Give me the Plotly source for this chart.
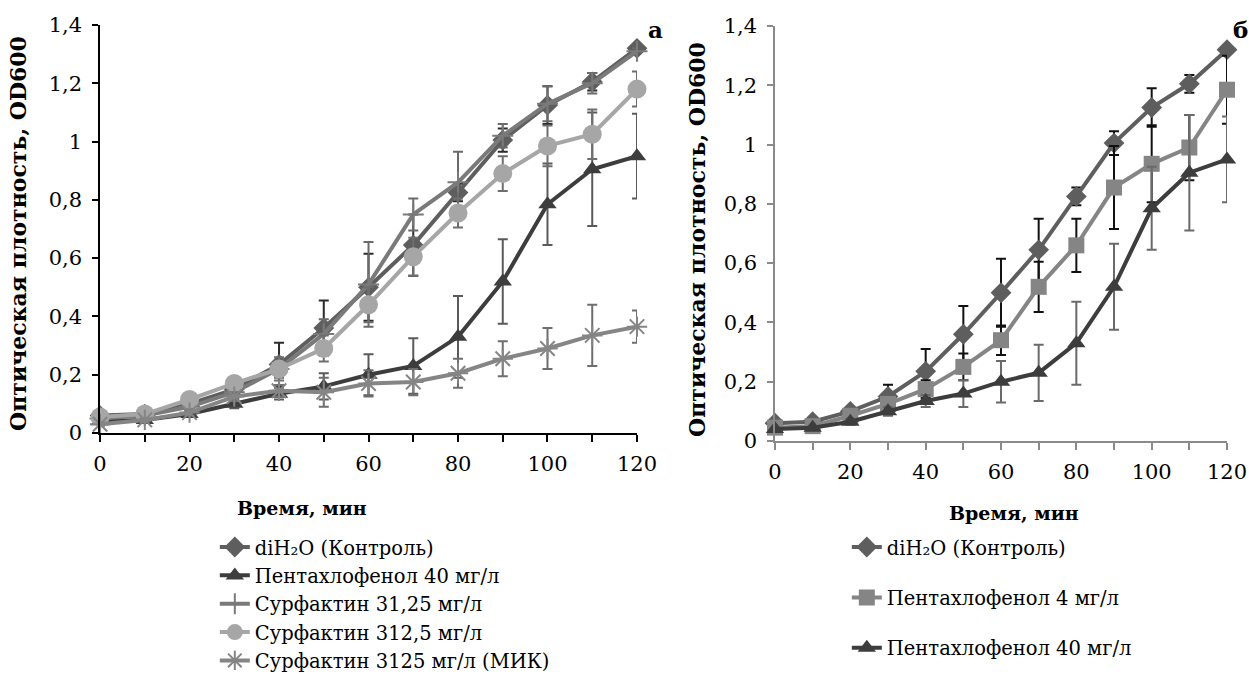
import plotly.graph_objects as go

# ---------------- data ----------------
time_min = [0, 10, 20, 30, 40, 50, 60, 70, 80, 90, 100, 110, 120]

x_tickvals = [0, 10, 20, 30, 40, 50, 60, 70, 80, 90, 100, 110, 120]
x_ticktext = ["0", "", "20", "", "40", "", "60", "", "80", "", "100", "", "120"]
y_tickvals = [0, 0.2, 0.4, 0.6, 0.8, 1.0, 1.2, 1.4]

# Panel a
control = [0.06, 0.065, 0.10, 0.15, 0.235, 0.36, 0.50, 0.645, 0.825, 1.005, 1.125, 1.205, 1.32]
control_err = [0.005, 0.005, 0.01, 0.04, 0.075, 0.095, 0.115, 0.105, 0.03, 0.04, 0.065, 0.03, 0.01]

pcp40 = [0.04, 0.045, 0.065, 0.10, 0.135, 0.16, 0.20, 0.23, 0.33, 0.52, 0.785, 0.905, 0.95]
pcp40_err = [0.005, 0.005, 0.01, 0.015, 0.02, 0.045, 0.07, 0.095, 0.14, 0.145, 0.14, 0.195, 0.145]

surf31 = [0.05, 0.06, 0.09, 0.14, 0.22, 0.34, 0.51, 0.75, 0.86, 1.02, 1.13, 1.20, 1.31]
surf31_err = [0.005, 0.005, 0.01, 0.02, 0.03, 0.05, 0.145, 0.055, 0.105, 0.04, 0.06, 0.035, 0.01]

surf312 = [0.055, 0.065, 0.115, 0.17, 0.22, 0.29, 0.44, 0.605, 0.755, 0.89, 0.985, 1.025, 1.18]
surf312_err = [0.005, 0.005, 0.01, 0.015, 0.04, 0.045, 0.06, 0.065, 0.05, 0.06, 0.07, 0.085, 0.06]

surf3125 = [0.03, 0.045, 0.07, 0.125, 0.145, 0.14, 0.17, 0.175, 0.205, 0.255, 0.29, 0.335, 0.365]
surf3125_err = [0.005, 0.005, 0.01, 0.015, 0.02, 0.05, 0.045, 0.045, 0.05, 0.06, 0.07, 0.105, 0.055]

# Panel б
pcp4 = [0.045, 0.05, 0.085, 0.125, 0.175, 0.25, 0.34, 0.52, 0.66, 0.855, 0.935, 0.99, 1.185]
pcp4_err = [0.005, 0.005, 0.01, 0.01, 0.03, 0.045, 0.05, 0.085, 0.09, 0.14, 0.13, 0.11, 0.115]

names_a = ["diH₂O (Контроль)", "Пентахлофенол 40 мг/л", "Сурфактин 31,25 мг/л",
           "Сурфактин 312,5 мг/л", "Сурфактин 3125 мг/л (МИК)"]
names_b = ["diH₂O (Контроль)", "Пентахлофенол 4 мг/л", "Пентахлофенол 40 мг/л"]

FONT = "DejaVu Serif"

fig = go.Figure()


def add(x, y, err, name, color, symbol, msize, errcolor, xa, ya, leg, group, mline=None):
    marker = dict(symbol=symbol, size=msize, color=color)
    if mline:
        marker["line"] = dict(color=color, width=mline)
    fig.add_trace(go.Scatter(
        x=x, y=y, name=name, mode="lines+markers",
        line=dict(color=color, width=4),
        marker=marker,
        error_y=dict(type="data", array=err, visible=True, color=errcolor, thickness=2, width=5),
        xaxis=xa, yaxis=ya, legend=leg, legendgroup=group, cliponaxis=False,
    ))


# panel a
add(time_min, control, control_err, names_a[0], "#5e5e5e", "diamond", 16, "#2b2b2b", "x", "y", "legend", "a0")
add(time_min, pcp40, pcp40_err, names_a[1], "#3d3d3d", "triangle-up", 16, "#5a5a5a", "x", "y", "legend", "a1")
add(time_min, surf31, surf31_err, names_a[2], "#7a7a7a", "cross-thin-open", 15, "#6a6a6a", "x", "y", "legend", "a2", mline=2)
add(time_min, surf312, surf312_err, names_a[3], "#a6a6a6", "circle", 19, "#6e6e6e", "x", "y", "legend", "a3")
add(time_min, surf3125, surf3125_err, names_a[4], "#858585", "asterisk-open", 17, "#6e6e6e", "x", "y", "legend", "a4", mline=2)

# panel б
add(time_min, control, control_err, names_b[0], "#5e5e5e", "diamond", 16, "#111111", "x2", "y2", "legend2", "b0")
add(time_min, pcp4, pcp4_err, names_b[1], "#858585", "square", 16, "#111111", "x2", "y2", "legend2", "b1")
add(time_min, pcp40, pcp40_err, names_b[2], "#3d3d3d", "triangle-up", 16, "#6a6a6a", "x2", "y2", "legend2", "b2")

tickfont = dict(family=FONT, size=21, color="black")


def xax(domain, anchor, lc):
    return dict(domain=domain, anchor=anchor, range=[0, 120], tickmode="array",
                tickvals=x_tickvals, ticktext=x_ticktext, showline=True, linecolor=lc,
                linewidth=1.5, ticks="outside", ticklen=7, tickcolor=lc, tickwidth=1.5,
                showgrid=False, zeroline=False, tickfont=tickfont, automargin=False,
                ticklabelstandoff=4)


def yax(domain, anchor, lc):
    return dict(domain=domain, anchor=anchor, range=[0, 1.4], tickmode="array",
                tickvals=y_tickvals, showline=True, linecolor=lc,
                linewidth=1.5, ticks="outside", ticklen=6, tickcolor=lc, tickwidth=1.5,
                showgrid=False, zeroline=False, tickfont=tickfont, tickformat="~g",
                automargin=False, ticklabelstandoff=6)


legfont = dict(family=FONT, size=19.5, color="black")

fig.update_layout(
    width=1249, height=675,
    margin=dict(l=0, r=0, t=0, b=0, autoexpand=False),
    paper_bgcolor="white", plot_bgcolor="white",
    separators=", ",
    font=dict(family=FONT, color="black"),
    xaxis=xax([0.0801, 0.510], "y", "black"),
    yaxis=yax([0.3585, 0.963], "x", "black"),
    xaxis2=xax([0.6205, 0.9824], "y2", "#8a8a8a"),
    yaxis2=yax([0.3467, 0.9615], "x2", "#8a8a8a"),
    legend=dict(x=0.172, y=0.218, xanchor="left", yanchor="top", font=legfont,
                bgcolor="rgba(0,0,0,0)", traceorder="grouped", tracegroupgap=0, itemwidth=30),
    legend2=dict(x=0.678, y=0.218, xanchor="left", yanchor="top", font=legfont,
                 bgcolor="rgba(0,0,0,0)", traceorder="grouped", tracegroupgap=22, itemwidth=30),
    showlegend=True,
)

annots = [
    dict(text="<b>Время, мин</b>", x=302 / 1249, y=1 - 508 / 675, size=19),
    dict(text="<b>Время, мин</b>", x=1014 / 1249, y=1 - 513 / 675, size=19),
    dict(text="<b>Оптическая плотность, OD600</b>", x=18 / 1249, y=1 - 234 / 675, textangle=-90, size=22),
    dict(text="<b>Оптическая плотность, OD600</b>", x=697 / 1249, y=1 - 240 / 675, textangle=-90, size=22),
    dict(text="<b>а</b>", x=655 / 1249, y=1 - 30 / 675, size=23),
    dict(text="<b>б</b>", x=1240 / 1249, y=1 - 30 / 675, size=23),
]
for a in annots:
    fig.add_annotation(text=a["text"], x=a["x"], y=a["y"], xref="paper", yref="paper",
                       xanchor="center", yanchor="middle", showarrow=False,
                       textangle=a.get("textangle", 0),
                       font=dict(family=FONT, size=a.get("size", 20), color="black"))

fig.write_html("out.html")
